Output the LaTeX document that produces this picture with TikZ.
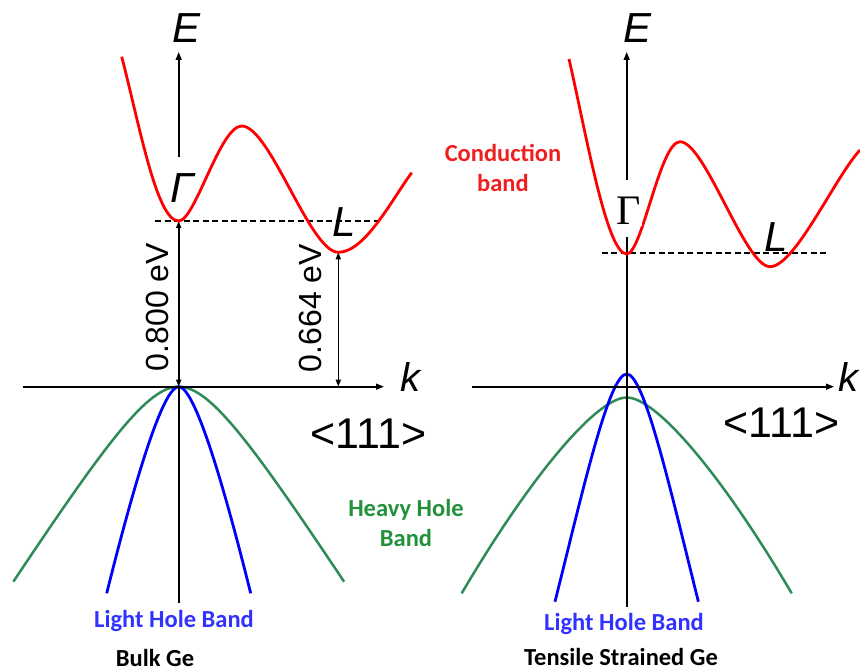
\documentclass[tikz,border=0pt]{standalone}
\usepackage{fontspec}
\usetikzlibrary{arrows.meta}
\newfontfamily\arialf{Liberation Sans}
\newfontfamily\timesf{Liberation Serif}
\newfontfamily\calibf{Carlito}
\definecolor{hhgreen}{RGB}{46,139,87}
\definecolor{hhtext}{RGB}{35,145,60}
\definecolor{lhtext}{RGB}{50,50,255}
\definecolor{cbred}{RGB}{240,30,30}
\tikzset{
 axisline/.style={line width=1.6pt, black},
 axisarrow/.style={axisline, -{Triangle[length=8pt,width=6pt]}},
 dblarrow/.style={axisline, {Triangle[length=7pt,width=5pt]}-{Triangle[length=7pt,width=5pt]}},
 cband/.style={line width=2.8pt, red},
 lhband/.style={line width=2.8pt, blue},
 hhband/.style={line width=2.5pt, hhgreen},
 dashline/.style={line width=1.7pt, dash pattern=on 6pt off 3.5pt},
 italab/.style={font=\arialf\itshape\fontsize{42}{48}\selectfont, inner sep=0pt},
 klab/.style={font=\arialf\itshape\fontsize{40}{48}\selectfont, inner sep=0pt},
 dirlab/.style={font=\arialf\fontsize{43}{50}\selectfont, inner sep=0pt},
 evlab/.style={font=\arialf\fontsize{32}{38}\selectfont, inner sep=0pt, rotate=90},
 bandlab/.style={font=\calibf\bfseries\fontsize{24.5}{30}\selectfont, inner sep=0pt},
 bandlabtwo/.style={bandlab, align=center},
}
\begin{document}
\begin{tikzpicture}[x=1pt,y=-1pt]
\useasboundingbox (0,0) rectangle (860,671);
% ---------------- Left panel: Bulk Ge ----------------
\coordinate (LEtop) at (178.7,52);
\coordinate (LEbot) at (178.7,157);
\coordinate (LG) at (178.7,221);
\coordinate (LO) at (178.7,386.7);
\coordinate (Laxbot) at (178.7,603);
\coordinate (Lkl) at (23,386.7);
\coordinate (Lkr) at (384,386.7);
\coordinate (LLmin) at (338.3,252.3);
\coordinate (LLax) at (338.3,386.7);
\coordinate (Ldl) at (155,221);
\coordinate (Ldr) at (380,221);
% valence bands
\draw[hhband] (13.3,581.7) .. controls (108,440) and (148,386.7) .. (LO)
  .. controls (209.4,386.7) and (249.4,440) .. (344.1,581.7);
\draw[lhband] (106.7,593.3) .. controls (125,520) and (160,386.7) .. (LO)
  .. controls (197.4,386.7) and (232.4,520) .. (250.7,593.3);
% axes
\draw[axisarrow] (LEbot) -- (LEtop);
\draw[axisline] (LO) -- (Laxbot);
\draw[axisarrow] (Lkl) -- (Lkr);
\draw[dashline] (Ldl) -- (Ldr);
\draw[dblarrow] (LG) -- (LO);
\draw[dblarrow] (LLmin) -- (LLax);
% conduction band
\draw[cband] (121.7,56.7) .. controls (139.7,126) and (156.7,221) .. (LG)
  .. controls (195,221) and (220,126) .. (241.7,126)
  .. controls (270,126) and (310,252.3) .. (LLmin)
  .. controls (365,252.3) and (391.7,199.7) .. (411.7,172.7);
% labels
\node[italab] (LE) at (187,28) {E};
\node[klab] (Lk) at (410,377) {k};
\node[italab] (LGam) at (182,188) {Γ};
\node[italab] (LL) at (344,222) {L};
\node[evlab] (Lev1) at (157.5,307) {0.800 eV};
\node[evlab] (Lev2) at (310.5,308) {0.664 eV};
\node[dirlab] (Ldir) at (368.5,434) {<111>};
\node[bandlabtwo, text=hhtext] (HH) at (406,523) {Heavy Hole\\Band};
\node[bandlab, text=lhtext] (LLH) at (174,621) {Light Hole Band};
\node[bandlab, text=black] (Lname) at (155,658) {Bulk Ge};
% ---------------- Right panel: Tensile strained Ge ----------------
\coordinate (REtop) at (626.7,52);
\coordinate (REbot) at (626.7,180);
\coordinate (Raxmid) at (626.7,237);
\coordinate (RG) at (626.7,254);
\coordinate (RO) at (626.7,386.7);
\coordinate (Raxbot) at (626.7,607);
\coordinate (Rkl) at (472,386.7);
\coordinate (Rkr) at (834,386.7);
\coordinate (RLmin) at (770,266.7);
\coordinate (Rdl) at (601.7,253.3);
\coordinate (Rdr) at (826.7,253.3);
\coordinate (RLHtop) at (626.7,374);
\coordinate (RHHtop) at (626.7,397.5);
% valence bands
\draw[hhband] (461.7,593.3) .. controls (530.7,476) and (596.7,397.5) .. (RHHtop)
  .. controls (656.7,397.5) and (722.7,476) .. (791.7,593.3);
\draw[lhband] (555,601.7) .. controls (583,490) and (609,374) .. (RLHtop)
  .. controls (644.4,374) and (670.4,490) .. (698.4,601.7);
% axes
\draw[axisarrow] (REbot) -- (REtop);
\draw[axisline] (Raxmid) -- (Raxbot);
\draw[axisarrow] (Rkl) -- (Rkr);
\draw[dashline] (Rdl) -- (Rdr);
% conduction band
\draw[cband] (569,59) .. controls (586,133) and (606.7,254) .. (RG)
  .. controls (642,254) and (660,141.7) .. (680,141.7)
  .. controls (705,141.7) and (745,266.7) .. (RLmin)
  .. controls (795,266.7) and (835,177) .. (860,150);
% labels
\node[italab] (RE) at (638,28) {E};
\node[klab] (Rk) at (848,377) {k};
\node[font=\timesf\fontsize{42}{48}\selectfont, inner sep=1pt, fill=white] (RGam) at (629,211) {Γ};
\node[italab] (RL) at (776,237) {L};
\node[dirlab] (Rdir) at (781.5,423) {<111>};
\node[bandlabtwo, text=cbred] (CB) at (503,168) {Conduction\\band};
\node[bandlab, text=lhtext] (RLH) at (624,624) {Light Hole Band};
\node[bandlab, text=black] (Rname) at (621,657) {Tensile Strained Ge};
\end{tikzpicture}
\end{document}
